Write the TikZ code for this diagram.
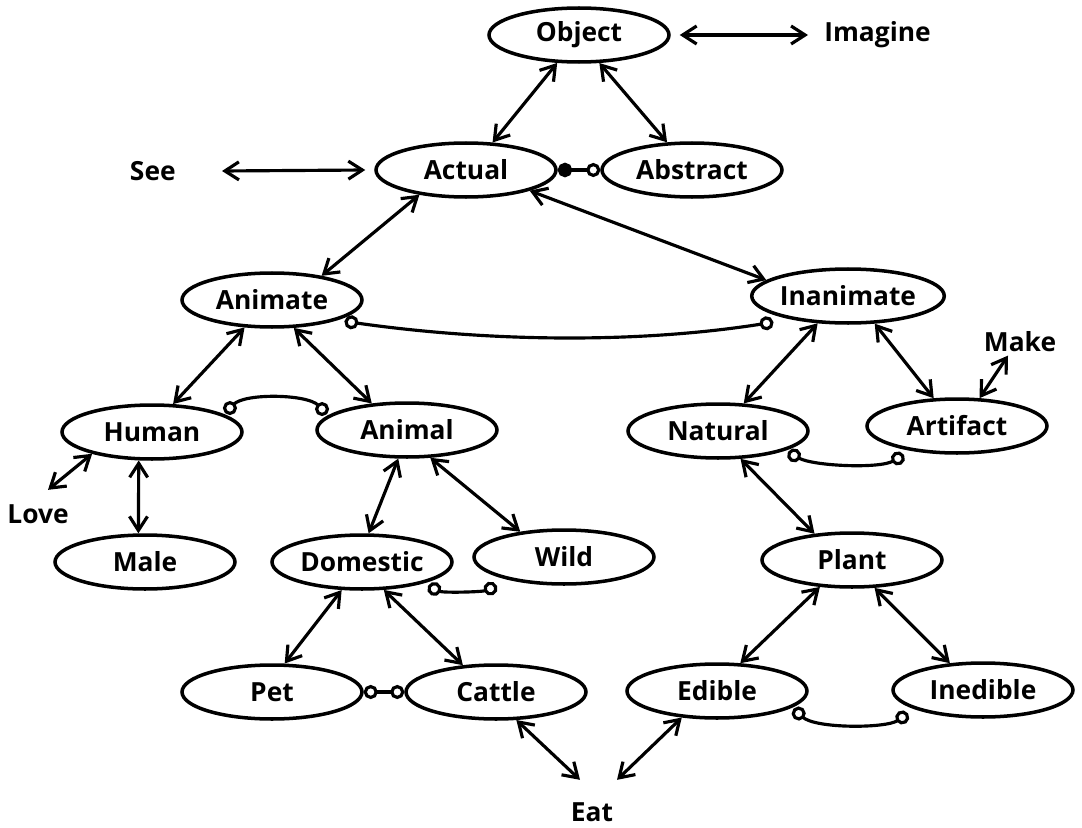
\documentclass[tikz,border=0pt]{standalone}
\usepackage{fontspec}
\setmainfont{Open Sans}
\usetikzlibrary{arrows.meta,shapes.geometric,calc}
\begin{document}
\begin{tikzpicture}[x=0.02cm,y=-0.02cm,
  labelfont/.style={font=\fontsize{15}{18}\selectfont\bfseries},
  concept/.style={ellipse,draw,line width=2pt,minimum width=3.6cm,
    minimum height=1.08cm,inner sep=0pt,labelfont},
  word/.style={inner sep=0pt,labelfont},
  rel/.style={line width=1.8pt,line cap=round,
    {Straight Barb[length=2.8mm,width=3.6mm]}-{Straight Barb[length=2.8mm,width=3.6mm]}},
  excl/.style={line width=1.8pt,
    {Circle[open,length=2.8mm,width=2.8mm]}-{Circle[open,length=2.8mm,width=2.8mm]}},
  exclfilled/.style={line width=1.8pt,
    {Circle[length=2.9mm,width=2.9mm]}-{Circle[open,length=2.8mm,width=2.8mm]}}
]
\useasboundingbox (0,0) rectangle (1082,828);

% concept ellipses
\node[concept] (obj)   at (579,35)  {Object};
\node[concept] (act)   at (466,170) {Actual};
\node[concept] (abs)   at (692,170) {Abstract};
\node[concept] (ani)   at (272,300) {Animate};
\node[concept] (inan)  at (848,296) {Inanimate};
\node[concept] (hum)   at (152,432) {Human};
\node[concept] (anm)   at (407,430) {Animal};
\node[concept] (nat)   at (718,431) {Natural};
\node[concept] (art)   at (957,426) {Artifact};
\node[concept] (male)  at (145,562) {Male};
\node[concept] (dom)   at (362,562) {Domestic};
\node[concept] (wild)  at (564,557) {Wild};
\node[concept] (plant) at (852,560) {Plant};
\node[concept] (pet)   at (272,692) {Pet};
\node[concept] (cat)   at (496,692) {Cattle};
\node[concept] (edi)   at (717,691) {Edible};
\node[concept] (ined)  at (983,690) {Inedible};

% action words
\node[word,anchor=west] (img)  at (824,35)  {Imagine};
\node[word,anchor=east] (see)  at (176,171) {See};
\node[word,anchor=base] (make) at (1020,351) {Make};
\node[word,anchor=base] (love) at (38,523)  {Love};
\node[word,anchor=base] (eat)  at (592,821) {Eat};

% two-way relations
\draw[rel] ($(obj.east)+(9,0)$) -- ($(img.west)+(-16,0)$);
\draw[rel] ($(see.east)+(46,0)$) -- ($(act.west)+(-9,0)$);
\draw[rel] (obj.232) -- (act.46);
\draw[rel] (obj.306) -- (abs.132);
\draw[rel] (act.208) -- (ani.26);
\draw[rel] (act.342) -- (inan.169);
\draw[rel] (ani.225) -- (hum.53);
\draw[rel] (ani.308) -- (anm.143);
\draw[rel] (inan.222) -- (nat.47);
\draw[rel] (inan.314) -- (art.130);
\draw[rel] (art.51) -- ($(make.south)+(-12,4)$);
\draw[rel] (hum.200) -- ($(love.north)+(10,-14)$);
\draw[rel] (hum.245) -- (male.103);
\draw[rel] (anm.253) -- (dom.77);
\draw[rel] (anm.310) -- (wild.150);
\draw[rel] (nat.309) -- (plant.145);
\draw[rel] (dom.234) -- (pet.66);
\draw[rel] (dom.308) -- (cat.141);
\draw[rel] (plant.220) -- (edi.50);
\draw[rel] (plant.309) -- (ined.141);
\draw[rel] (cat.306) -- ($(eat.north)+(-12,-22)$);
\draw[rel] (edi.217) -- ($(eat.north)+(25,-22)$);

% exclusive pairs
\draw[exclfilled] (act.east) -- (abs.west);
\draw[excl] ($(ani)+(72.5,21.3)$) .. controls +(140,20) and +(-140,22) .. ($(inan)+(-74.6,26.2)$);
\draw[excl] ($(hum)+(73,-19)$) .. controls +(20,-20) and +(-20,-20) .. ($(anm)+(-80,-16)$);
\draw[excl] ($(dom)+(66,24)$) .. controls +(15,7) and +(-15,6) .. ($(wild)+(-67,29)$);
\draw[excl] ($(nat)+(70,21)$) .. controls +(25,14) and +(-25,14) .. ($(art)+(-53,29)$);
\draw[excl] (pet.east) -- (cat.west);
\draw[excl] ($(edi)+(76.5,17.8)$) .. controls +(22,20) and +(-22,15) .. ($(ined)+(-75,23.5)$);
\end{tikzpicture}
\end{document}
